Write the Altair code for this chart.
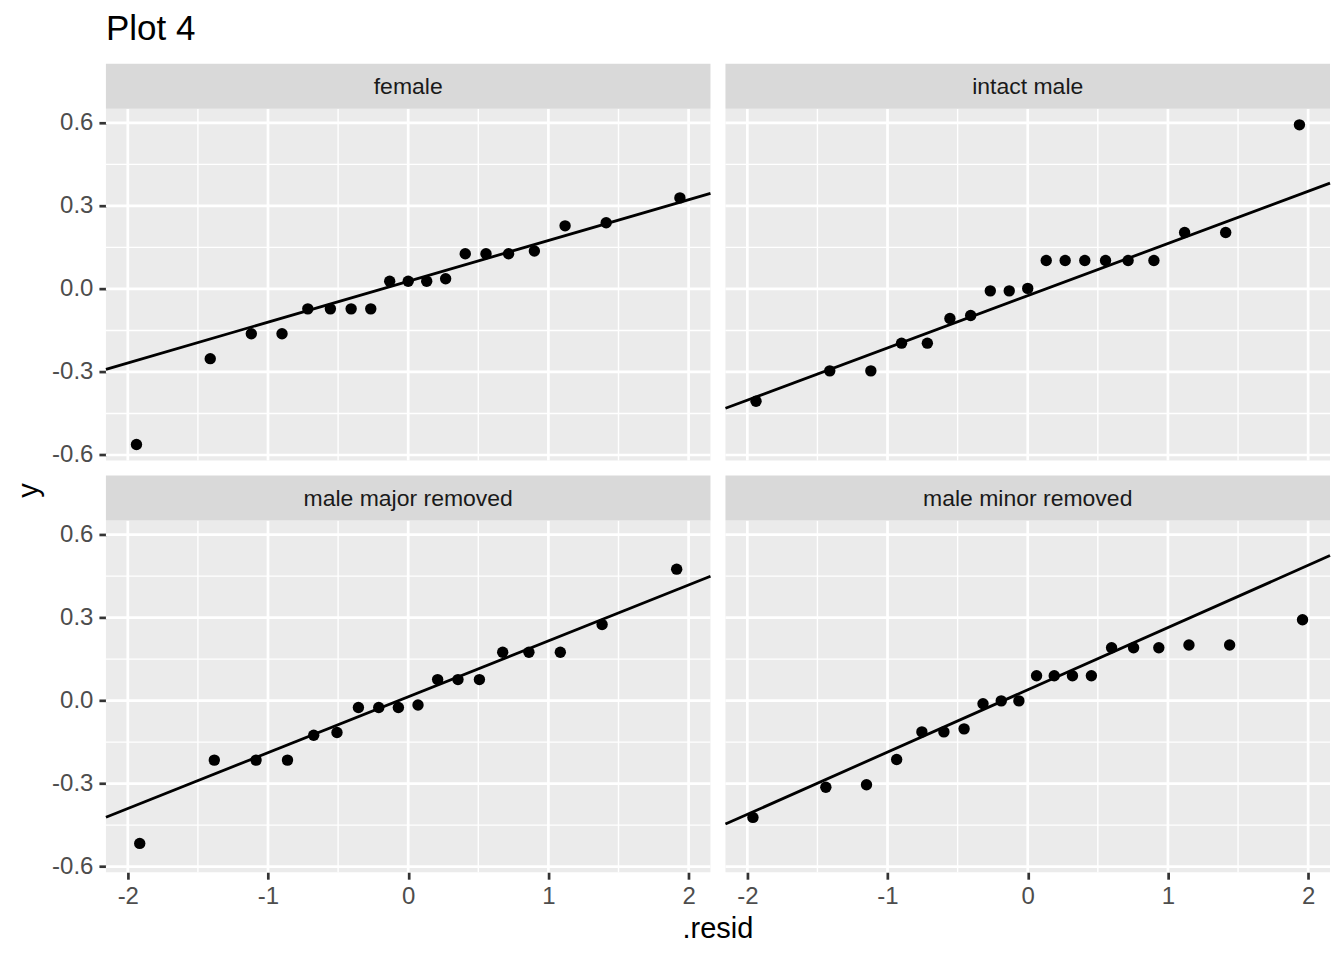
import altair as alt
import pandas as pd

FONT = "Liberation Sans"
W, H = 605, 352
STRIP = 45
XDOM = [-2.156, 2.156]
YDOM = [-0.620, 0.651]

panels = ["female", "intact male", "male major removed", "male minor removed"]

# theoretical quantiles
q19 = [-1.938, -1.412, -1.119, -0.900, -0.716, -0.555, -0.407, -0.267, -0.132, 0.000,
       0.132, 0.267, 0.407, 0.555, 0.716, 0.900, 1.119, 1.412, 1.938]
q18 = [-1.915, -1.383, -1.085, -0.861, -0.674, -0.508, -0.355, -0.210, -0.070,
       0.070, 0.210, 0.355, 0.508, 0.674, 0.861, 1.085, 1.383, 1.915]
q20 = [-1.960, -1.440, -1.150, -0.935, -0.755, -0.598, -0.454, -0.319, -0.189, -0.063,
       0.063, 0.189, 0.319, 0.454, 0.598, 0.755, 0.935, 1.150, 1.440, 1.960]

y_female = [-0.562, -0.252, -0.162, -0.162, -0.072, -0.072, -0.072, -0.072, 0.028, 0.028,
            0.028, 0.037, 0.127, 0.127, 0.127, 0.137, 0.228, 0.239, 0.329]
y_intact = [-0.406, -0.296, -0.296, -0.196, -0.196, -0.107, -0.096, -0.007, -0.007, 0.002,
            0.103, 0.103, 0.103, 0.103, 0.103, 0.103, 0.204, 0.204, 0.593]
y_major = [-0.516, -0.215, -0.215, -0.215, -0.125, -0.115, -0.025, -0.025, -0.025, -0.016,
           0.076, 0.076, 0.076, 0.175, 0.175, 0.175, 0.275, 0.475]
y_minor = [-0.422, -0.313, -0.304, -0.213, -0.113, -0.113, -0.102, -0.011, -0.001, -0.001,
           0.090, 0.090, 0.090, 0.090, 0.191, 0.191, 0.191, 0.201, 0.201, 0.292]

theo = [q19, q19, q18, q20]
samp = [y_female, y_intact, y_major, y_minor]

# reference line (slope, intercept) per panel
slopes = [0.1475, 0.1887, 0.2020, 0.2250]
intercepts = [0.0275, -0.0245, 0.0140, 0.0390]

x_major_ticks = [-2, -1, 0, 1, 2]
x_minor_ticks = [-1.5, -0.5, 0.5, 1.5]
y_major_ticks = [-0.6, -0.3, 0.0, 0.3, 0.6]
y_minor_ticks = [-0.45, -0.15, 0.15, 0.45]

MINUS_FIX = "replace(format(datum.value, '{fmt}'), '\u2212', '-')"


def text_layer(t, x, y, size, color="black", align="left", angle=0):
    return alt.Chart(pd.DataFrame({"t": [t]})).mark_text(
        font=FONT, fontSize=size, color=color, align=align,
        baseline="alphabetic", angle=angle
    ).encode(x=alt.value(x), y=alt.value(y), text="t:N")


def panel(i, show_x, show_y, extras):
    name = panels[i]
    df = pd.DataFrame({"q": theo[i], "s": samp[i]})
    ln = pd.DataFrame({"q": XDOM,
                       "s": [intercepts[i] + slopes[i] * XDOM[0],
                             intercepts[i] + slopes[i] * XDOM[1]]})
    xs = alt.Scale(domain=XDOM, nice=False, zero=False)
    ys = alt.Scale(domain=YDOM, nice=False, zero=False)

    def xaxis():
        if not show_x:
            return None
        return alt.Axis(values=x_major_ticks, labelExpr=MINUS_FIX.format(fmt="d"),
                        tickSize=7, tickWidth=2.7, tickColor="#333333",
                        labelFontSize=24, labelColor="#4D4D4D", labelFont=FONT,
                        labelPadding=5, domain=False, grid=False, title=None)

    def yaxis():
        if not show_y:
            return None
        return alt.Axis(values=y_major_ticks, labelExpr=MINUS_FIX.format(fmt=".1f"),
                        tickSize=7, tickWidth=2.7, tickColor="#333333",
                        labelFontSize=24, labelColor="#4D4D4D", labelFont=FONT,
                        labelPadding=6, domain=False, grid=False, title=None)

    def vr(vals, w):
        return alt.Chart(pd.DataFrame({"v": vals})).mark_rule(color="white", strokeWidth=w).encode(
            x=alt.X("v:Q", scale=xs, axis=xaxis()))

    def hr(vals, w):
        return alt.Chart(pd.DataFrame({"v": vals})).mark_rule(color="white", strokeWidth=w).encode(
            y=alt.Y("v:Q", scale=ys, axis=yaxis()))

    sdf = pd.DataFrame({"label": [name]})
    strip = alt.Chart(sdf).mark_rect(color="#D9D9D9").encode(
        x=alt.value(0), x2=alt.value(W), y=alt.value(-STRIP), y2=alt.value(0))
    stext = alt.Chart(sdf).mark_text(font=FONT, fontSize=23, color="#1A1A1A",
                                     align="center", baseline="middle").encode(
        x=alt.value(W / 2), y=alt.value(-STRIP / 2 + 1), text="label:N")
    line = alt.Chart(ln).mark_line(color="black", strokeWidth=2.8).encode(
        x=alt.X("q:Q", scale=xs, axis=xaxis()), y=alt.Y("s:Q", scale=ys, axis=yaxis()))
    pts = alt.Chart(df).mark_circle(size=130, color="black", opacity=1).encode(
        x=alt.X("q:Q", scale=xs, axis=xaxis()), y=alt.Y("s:Q", scale=ys, axis=yaxis()))
    layers = [vr(x_minor_ticks, 1.4), vr(x_major_ticks, 2.7),
              hr(y_minor_ticks, 1.4), hr(y_major_ticks, 2.7),
              strip, stext, line, pts] + extras
    return alt.layer(*layers).properties(width=W, height=H)


A = panel(0, False, True, [
    text_layer("Plot 4", 0, -68.5, 35),
    text_layer("y", -68, 382, 29, align="center", angle=270),
])
B = panel(1, False, False, [])
C = panel(2, True, True, [text_layer(".resid", 612.5, 418, 29, align="center")])
D = panel(3, True, False, [])

chart = alt.ConcatChart(
    concat=[A, B, C, D], columns=2,
    spacing=alt.RowColnumber(row=60, column=15), bounds="flush"
).properties(
    padding={"left": 7, "top": 3.5, "right": 0, "bottom": 0},
    background="white"
).configure_view(fill="#EBEBEB", stroke=None)

chart.save("out.html", embed_options={"renderer": "svg", "actions": False})
